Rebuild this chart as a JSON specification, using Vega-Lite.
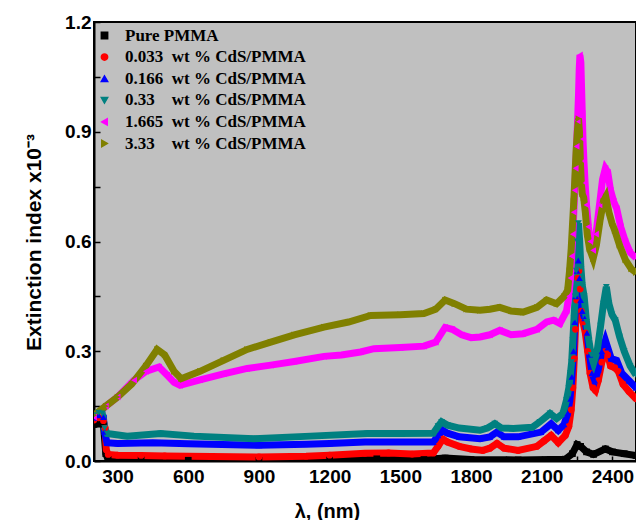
{
  "$schema": "https://vega.github.io/schema/vega-lite/v6.json",
  "width": 542,
  "height": 439,
  "autosize": {"type": "none"},
  "padding": {"left": 94, "top": 22, "right": 0, "bottom": 59},
  "background": "white",
  "config": {
    "view": {"fill": "#c0c0c0", "stroke": "black", "strokeWidth": 2},
    "axis": {"grid": false, "domainColor": "black", "domainWidth": 2, "tickColor": "black", "tickWidth": 1.5, "labelFont": "Liberation Sans", "labelFontWeight": "bold", "labelFontSize": 19, "labelColor": "black", "titleFont": "Liberation Sans", "titleFontWeight": "bold", "titleColor": "black"}
  },
  "data": {"values": [
    {"s":"Pure PMMA","x":200,"y":0.1},{"s":"Pure PMMA","x":220,"y":0.102},{"s":"Pure PMMA","x":240,"y":0.1},{"s":"Pure PMMA","x":250,"y":0.02},{"s":"Pure PMMA","x":260,"y":0.004},{"s":"Pure PMMA","x":400,"y":0.003},{"s":"Pure PMMA","x":600,"y":0.002},{"s":"Pure PMMA","x":900,"y":0.002},{"s":"Pure PMMA","x":1200,"y":0.003},{"s":"Pure PMMA","x":1400,"y":0.006},{"s":"Pure PMMA","x":1600,"y":0.004},{"s":"Pure PMMA","x":1690,"y":0.008},{"s":"Pure PMMA","x":1800,"y":0.004},{"s":"Pure PMMA","x":2000,"y":0.003},{"s":"Pure PMMA","x":2200,"y":0.005},{"s":"Pure PMMA","x":2230,"y":0.02},{"s":"Pure PMMA","x":2250,"y":0.045},{"s":"Pure PMMA","x":2265,"y":0.04},{"s":"Pure PMMA","x":2290,"y":0.025},{"s":"Pure PMMA","x":2320,"y":0.018},{"s":"Pure PMMA","x":2370,"y":0.033},{"s":"Pure PMMA","x":2400,"y":0.025},{"s":"Pure PMMA","x":2450,"y":0.02},{"s":"Pure PMMA","x":2500,"y":0.015},

    {"s":"0.033\u00a0\u00a0wt % CdS/PMMA","x":200,"y":0.112},{"s":"0.033\u00a0\u00a0wt % CdS/PMMA","x":220,"y":0.118},{"s":"0.033\u00a0\u00a0wt % CdS/PMMA","x":240,"y":0.11},{"s":"0.033\u00a0\u00a0wt % CdS/PMMA","x":247,"y":0.09},{"s":"0.033\u00a0\u00a0wt % CdS/PMMA","x":252,"y":0.03},{"s":"0.033\u00a0\u00a0wt % CdS/PMMA","x":260,"y":0.018},{"s":"0.033\u00a0\u00a0wt % CdS/PMMA","x":300,"y":0.016},{"s":"0.033\u00a0\u00a0wt % CdS/PMMA","x":400,"y":0.015},{"s":"0.033\u00a0\u00a0wt % CdS/PMMA","x":500,"y":0.014},{"s":"0.033\u00a0\u00a0wt % CdS/PMMA","x":700,"y":0.012},{"s":"0.033\u00a0\u00a0wt % CdS/PMMA","x":900,"y":0.011},{"s":"0.033\u00a0\u00a0wt % CdS/PMMA","x":1100,"y":0.013},{"s":"0.033\u00a0\u00a0wt % CdS/PMMA","x":1200,"y":0.016},{"s":"0.033\u00a0\u00a0wt % CdS/PMMA","x":1350,"y":0.021},{"s":"0.033\u00a0\u00a0wt % CdS/PMMA","x":1450,"y":0.022},{"s":"0.033\u00a0\u00a0wt % CdS/PMMA","x":1550,"y":0.019},{"s":"0.033\u00a0\u00a0wt % CdS/PMMA","x":1640,"y":0.022},{"s":"0.033\u00a0\u00a0wt % CdS/PMMA","x":1660,"y":0.04},{"s":"0.033\u00a0\u00a0wt % CdS/PMMA","x":1680,"y":0.06},{"s":"0.033\u00a0\u00a0wt % CdS/PMMA","x":1700,"y":0.052},{"s":"0.033\u00a0\u00a0wt % CdS/PMMA","x":1750,"y":0.04},{"s":"0.033\u00a0\u00a0wt % CdS/PMMA","x":1800,"y":0.033},{"s":"0.033\u00a0\u00a0wt % CdS/PMMA","x":1850,"y":0.029},{"s":"0.033\u00a0\u00a0wt % CdS/PMMA","x":1880,"y":0.035},{"s":"0.033\u00a0\u00a0wt % CdS/PMMA","x":1910,"y":0.048},{"s":"0.033\u00a0\u00a0wt % CdS/PMMA","x":1940,"y":0.035},{"s":"0.033\u00a0\u00a0wt % CdS/PMMA","x":2000,"y":0.029},{"s":"0.033\u00a0\u00a0wt % CdS/PMMA","x":2080,"y":0.04},{"s":"0.033\u00a0\u00a0wt % CdS/PMMA","x":2110,"y":0.055},{"s":"0.033\u00a0\u00a0wt % CdS/PMMA","x":2140,"y":0.07},{"s":"0.033\u00a0\u00a0wt % CdS/PMMA","x":2170,"y":0.05},{"s":"0.033\u00a0\u00a0wt % CdS/PMMA","x":2200,"y":0.07},{"s":"0.033\u00a0\u00a0wt % CdS/PMMA","x":2215,"y":0.095},{"s":"0.033\u00a0\u00a0wt % CdS/PMMA","x":2225,"y":0.14},{"s":"0.033\u00a0\u00a0wt % CdS/PMMA","x":2232,"y":0.2},{"s":"0.033\u00a0\u00a0wt % CdS/PMMA","x":2238,"y":0.28},{"s":"0.033\u00a0\u00a0wt % CdS/PMMA","x":2243,"y":0.36},{"s":"0.033\u00a0\u00a0wt % CdS/PMMA","x":2248,"y":0.44},{"s":"0.033\u00a0\u00a0wt % CdS/PMMA","x":2253,"y":0.5},{"s":"0.033\u00a0\u00a0wt % CdS/PMMA","x":2258,"y":0.52},{"s":"0.033\u00a0\u00a0wt % CdS/PMMA","x":2263,"y":0.47},{"s":"0.033\u00a0\u00a0wt % CdS/PMMA","x":2268,"y":0.41},{"s":"0.033\u00a0\u00a0wt % CdS/PMMA","x":2275,"y":0.38},{"s":"0.033\u00a0\u00a0wt % CdS/PMMA","x":2285,"y":0.35},{"s":"0.033\u00a0\u00a0wt % CdS/PMMA","x":2295,"y":0.3},{"s":"0.033\u00a0\u00a0wt % CdS/PMMA","x":2305,"y":0.24},{"s":"0.033\u00a0\u00a0wt % CdS/PMMA","x":2318,"y":0.2},{"s":"0.033\u00a0\u00a0wt % CdS/PMMA","x":2328,"y":0.193},{"s":"0.033\u00a0\u00a0wt % CdS/PMMA","x":2340,"y":0.22},{"s":"0.033\u00a0\u00a0wt % CdS/PMMA","x":2355,"y":0.27},{"s":"0.033\u00a0\u00a0wt % CdS/PMMA","x":2370,"y":0.3},{"s":"0.033\u00a0\u00a0wt % CdS/PMMA","x":2380,"y":0.29},{"s":"0.033\u00a0\u00a0wt % CdS/PMMA","x":2392,"y":0.26},{"s":"0.033\u00a0\u00a0wt % CdS/PMMA","x":2410,"y":0.255},{"s":"0.033\u00a0\u00a0wt % CdS/PMMA","x":2425,"y":0.245},{"s":"0.033\u00a0\u00a0wt % CdS/PMMA","x":2445,"y":0.21},{"s":"0.033\u00a0\u00a0wt % CdS/PMMA","x":2470,"y":0.19},{"s":"0.033\u00a0\u00a0wt % CdS/PMMA","x":2500,"y":0.17},

    {"s":"0.166\u00a0\u00a0wt % CdS/PMMA","x":200,"y":0.118},{"s":"0.166\u00a0\u00a0wt % CdS/PMMA","x":220,"y":0.125},{"s":"0.166\u00a0\u00a0wt % CdS/PMMA","x":240,"y":0.12},{"s":"0.166\u00a0\u00a0wt % CdS/PMMA","x":245,"y":0.08},{"s":"0.166\u00a0\u00a0wt % CdS/PMMA","x":255,"y":0.05},{"s":"0.166\u00a0\u00a0wt % CdS/PMMA","x":300,"y":0.048},{"s":"0.166\u00a0\u00a0wt % CdS/PMMA","x":450,"y":0.05},{"s":"0.166\u00a0\u00a0wt % CdS/PMMA","x":600,"y":0.047},{"s":"0.166\u00a0\u00a0wt % CdS/PMMA","x":900,"y":0.043},{"s":"0.166\u00a0\u00a0wt % CdS/PMMA","x":1100,"y":0.046},{"s":"0.166\u00a0\u00a0wt % CdS/PMMA","x":1200,"y":0.048},{"s":"0.166\u00a0\u00a0wt % CdS/PMMA","x":1350,"y":0.052},{"s":"0.166\u00a0\u00a0wt % CdS/PMMA","x":1500,"y":0.052},{"s":"0.166\u00a0\u00a0wt % CdS/PMMA","x":1640,"y":0.052},{"s":"0.166\u00a0\u00a0wt % CdS/PMMA","x":1660,"y":0.07},{"s":"0.166\u00a0\u00a0wt % CdS/PMMA","x":1680,"y":0.084},{"s":"0.166\u00a0\u00a0wt % CdS/PMMA","x":1700,"y":0.076},{"s":"0.166\u00a0\u00a0wt % CdS/PMMA","x":1750,"y":0.066},{"s":"0.166\u00a0\u00a0wt % CdS/PMMA","x":1838,"y":0.061},{"s":"0.166\u00a0\u00a0wt % CdS/PMMA","x":1880,"y":0.066},{"s":"0.166\u00a0\u00a0wt % CdS/PMMA","x":1909,"y":0.079},{"s":"0.166\u00a0\u00a0wt % CdS/PMMA","x":1940,"y":0.066},{"s":"0.166\u00a0\u00a0wt % CdS/PMMA","x":2000,"y":0.066},{"s":"0.166\u00a0\u00a0wt % CdS/PMMA","x":2097,"y":0.079},{"s":"0.166\u00a0\u00a0wt % CdS/PMMA","x":2140,"y":0.102},{"s":"0.166\u00a0\u00a0wt % CdS/PMMA","x":2170,"y":0.084},{"s":"0.166\u00a0\u00a0wt % CdS/PMMA","x":2195,"y":0.1},{"s":"0.166\u00a0\u00a0wt % CdS/PMMA","x":2210,"y":0.13},{"s":"0.166\u00a0\u00a0wt % CdS/PMMA","x":2220,"y":0.17},{"s":"0.166\u00a0\u00a0wt % CdS/PMMA","x":2228,"y":0.23},{"s":"0.166\u00a0\u00a0wt % CdS/PMMA","x":2235,"y":0.3},{"s":"0.166\u00a0\u00a0wt % CdS/PMMA","x":2240,"y":0.38},{"s":"0.166\u00a0\u00a0wt % CdS/PMMA","x":2245,"y":0.45},{"s":"0.166\u00a0\u00a0wt % CdS/PMMA","x":2250,"y":0.52},{"s":"0.166\u00a0\u00a0wt % CdS/PMMA","x":2255,"y":0.548},{"s":"0.166\u00a0\u00a0wt % CdS/PMMA","x":2260,"y":0.5},{"s":"0.166\u00a0\u00a0wt % CdS/PMMA","x":2265,"y":0.44},{"s":"0.166\u00a0\u00a0wt % CdS/PMMA","x":2272,"y":0.41},{"s":"0.166\u00a0\u00a0wt % CdS/PMMA","x":2282,"y":0.39},{"s":"0.166\u00a0\u00a0wt % CdS/PMMA","x":2292,"y":0.35},{"s":"0.166\u00a0\u00a0wt % CdS/PMMA","x":2303,"y":0.29},{"s":"0.166\u00a0\u00a0wt % CdS/PMMA","x":2313,"y":0.24},{"s":"0.166\u00a0\u00a0wt % CdS/PMMA","x":2325,"y":0.22},{"s":"0.166\u00a0\u00a0wt % CdS/PMMA","x":2340,"y":0.25},{"s":"0.166\u00a0\u00a0wt % CdS/PMMA","x":2355,"y":0.3},{"s":"0.166\u00a0\u00a0wt % CdS/PMMA","x":2370,"y":0.33},{"s":"0.166\u00a0\u00a0wt % CdS/PMMA","x":2380,"y":0.31},{"s":"0.166\u00a0\u00a0wt % CdS/PMMA","x":2395,"y":0.28},{"s":"0.166\u00a0\u00a0wt % CdS/PMMA","x":2418,"y":0.275},{"s":"0.166\u00a0\u00a0wt % CdS/PMMA","x":2440,"y":0.24},{"s":"0.166\u00a0\u00a0wt % CdS/PMMA","x":2470,"y":0.22},{"s":"0.166\u00a0\u00a0wt % CdS/PMMA","x":2500,"y":0.2},

    {"s":"0.33\u00a0\u00a0\u00a0\u00a0wt % CdS/PMMA","x":200,"y":0.125},{"s":"0.33\u00a0\u00a0\u00a0\u00a0wt % CdS/PMMA","x":220,"y":0.132},{"s":"0.33\u00a0\u00a0\u00a0\u00a0wt % CdS/PMMA","x":235,"y":0.13},{"s":"0.33\u00a0\u00a0\u00a0\u00a0wt % CdS/PMMA","x":245,"y":0.09},{"s":"0.33\u00a0\u00a0\u00a0\u00a0wt % CdS/PMMA","x":256,"y":0.075},{"s":"0.33\u00a0\u00a0\u00a0\u00a0wt % CdS/PMMA","x":341,"y":0.068},{"s":"0.33\u00a0\u00a0\u00a0\u00a0wt % CdS/PMMA","x":483,"y":0.075},{"s":"0.33\u00a0\u00a0\u00a0\u00a0wt % CdS/PMMA","x":624,"y":0.068},{"s":"0.33\u00a0\u00a0\u00a0\u00a0wt % CdS/PMMA","x":879,"y":0.061},{"s":"0.33\u00a0\u00a0\u00a0\u00a0wt % CdS/PMMA","x":1119,"y":0.068},{"s":"0.33\u00a0\u00a0\u00a0\u00a0wt % CdS/PMMA","x":1360,"y":0.075},{"s":"0.33\u00a0\u00a0\u00a0\u00a0wt % CdS/PMMA","x":1500,"y":0.075},{"s":"0.33\u00a0\u00a0\u00a0\u00a0wt % CdS/PMMA","x":1640,"y":0.076},{"s":"0.33\u00a0\u00a0\u00a0\u00a0wt % CdS/PMMA","x":1660,"y":0.095},{"s":"0.33\u00a0\u00a0\u00a0\u00a0wt % CdS/PMMA","x":1675,"y":0.107},{"s":"0.33\u00a0\u00a0\u00a0\u00a0wt % CdS/PMMA","x":1700,"y":0.098},{"s":"0.33\u00a0\u00a0\u00a0\u00a0wt % CdS/PMMA","x":1750,"y":0.09},{"s":"0.33\u00a0\u00a0\u00a0\u00a0wt % CdS/PMMA","x":1838,"y":0.084},{"s":"0.33\u00a0\u00a0\u00a0\u00a0wt % CdS/PMMA","x":1870,"y":0.09},{"s":"0.33\u00a0\u00a0\u00a0\u00a0wt % CdS/PMMA","x":1901,"y":0.102},{"s":"0.33\u00a0\u00a0\u00a0\u00a0wt % CdS/PMMA","x":1930,"y":0.09},{"s":"0.33\u00a0\u00a0\u00a0\u00a0wt % CdS/PMMA","x":1979,"y":0.089},{"s":"0.33\u00a0\u00a0\u00a0\u00a0wt % CdS/PMMA","x":2060,"y":0.092},{"s":"0.33\u00a0\u00a0\u00a0\u00a0wt % CdS/PMMA","x":2092,"y":0.107},{"s":"0.33\u00a0\u00a0\u00a0\u00a0wt % CdS/PMMA","x":2135,"y":0.13},{"s":"0.33\u00a0\u00a0\u00a0\u00a0wt % CdS/PMMA","x":2163,"y":0.116},{"s":"0.33\u00a0\u00a0\u00a0\u00a0wt % CdS/PMMA","x":2190,"y":0.13},{"s":"0.33\u00a0\u00a0\u00a0\u00a0wt % CdS/PMMA","x":2205,"y":0.166},{"s":"0.33\u00a0\u00a0\u00a0\u00a0wt % CdS/PMMA","x":2215,"y":0.2},{"s":"0.33\u00a0\u00a0\u00a0\u00a0wt % CdS/PMMA","x":2222,"y":0.24},{"s":"0.33\u00a0\u00a0\u00a0\u00a0wt % CdS/PMMA","x":2227,"y":0.27},{"s":"0.33\u00a0\u00a0\u00a0\u00a0wt % CdS/PMMA","x":2232,"y":0.33},{"s":"0.33\u00a0\u00a0\u00a0\u00a0wt % CdS/PMMA","x":2237,"y":0.39},{"s":"0.33\u00a0\u00a0\u00a0\u00a0wt % CdS/PMMA","x":2242,"y":0.45},{"s":"0.33\u00a0\u00a0\u00a0\u00a0wt % CdS/PMMA","x":2247,"y":0.52},{"s":"0.33\u00a0\u00a0\u00a0\u00a0wt % CdS/PMMA","x":2251,"y":0.6},{"s":"0.33\u00a0\u00a0\u00a0\u00a0wt % CdS/PMMA","x":2256,"y":0.65},{"s":"0.33\u00a0\u00a0\u00a0\u00a0wt % CdS/PMMA","x":2261,"y":0.6},{"s":"0.33\u00a0\u00a0\u00a0\u00a0wt % CdS/PMMA","x":2266,"y":0.53},{"s":"0.33\u00a0\u00a0\u00a0\u00a0wt % CdS/PMMA","x":2272,"y":0.48},{"s":"0.33\u00a0\u00a0\u00a0\u00a0wt % CdS/PMMA","x":2280,"y":0.45},{"s":"0.33\u00a0\u00a0\u00a0\u00a0wt % CdS/PMMA","x":2290,"y":0.38},{"s":"0.33\u00a0\u00a0\u00a0\u00a0wt % CdS/PMMA","x":2300,"y":0.33},{"s":"0.33\u00a0\u00a0\u00a0\u00a0wt % CdS/PMMA","x":2310,"y":0.29},{"s":"0.33\u00a0\u00a0\u00a0\u00a0wt % CdS/PMMA","x":2320,"y":0.268},{"s":"0.33\u00a0\u00a0\u00a0\u00a0wt % CdS/PMMA","x":2335,"y":0.3},{"s":"0.33\u00a0\u00a0\u00a0\u00a0wt % CdS/PMMA","x":2350,"y":0.37},{"s":"0.33\u00a0\u00a0\u00a0\u00a0wt % CdS/PMMA","x":2362,"y":0.43},{"s":"0.33\u00a0\u00a0\u00a0\u00a0wt % CdS/PMMA","x":2374,"y":0.476},{"s":"0.33\u00a0\u00a0\u00a0\u00a0wt % CdS/PMMA","x":2385,"y":0.43},{"s":"0.33\u00a0\u00a0\u00a0\u00a0wt % CdS/PMMA","x":2398,"y":0.4},{"s":"0.33\u00a0\u00a0\u00a0\u00a0wt % CdS/PMMA","x":2412,"y":0.385},{"s":"0.33\u00a0\u00a0\u00a0\u00a0wt % CdS/PMMA","x":2430,"y":0.34},{"s":"0.33\u00a0\u00a0\u00a0\u00a0wt % CdS/PMMA","x":2450,"y":0.3},{"s":"0.33\u00a0\u00a0\u00a0\u00a0wt % CdS/PMMA","x":2475,"y":0.26},{"s":"0.33\u00a0\u00a0\u00a0\u00a0wt % CdS/PMMA","x":2500,"y":0.235},

    {"s":"1.665\u00a0\u00a0wt % CdS/PMMA","x":200,"y":0.12},{"s":"1.665\u00a0\u00a0wt % CdS/PMMA","x":250,"y":0.15},{"s":"1.665\u00a0\u00a0wt % CdS/PMMA","x":300,"y":0.175},{"s":"1.665\u00a0\u00a0wt % CdS/PMMA","x":370,"y":0.221},{"s":"1.665\u00a0\u00a0wt % CdS/PMMA","x":420,"y":0.245},{"s":"1.665\u00a0\u00a0wt % CdS/PMMA","x":476,"y":0.257},{"s":"1.665\u00a0\u00a0wt % CdS/PMMA","x":510,"y":0.235},{"s":"1.665\u00a0\u00a0wt % CdS/PMMA","x":540,"y":0.215},{"s":"1.665\u00a0\u00a0wt % CdS/PMMA","x":565,"y":0.207},{"s":"1.665\u00a0\u00a0wt % CdS/PMMA","x":650,"y":0.222},{"s":"1.665\u00a0\u00a0wt % CdS/PMMA","x":750,"y":0.238},{"s":"1.665\u00a0\u00a0wt % CdS/PMMA","x":850,"y":0.253},{"s":"1.665\u00a0\u00a0wt % CdS/PMMA","x":950,"y":0.262},{"s":"1.665\u00a0\u00a0wt % CdS/PMMA","x":1050,"y":0.272},{"s":"1.665\u00a0\u00a0wt % CdS/PMMA","x":1176,"y":0.286},{"s":"1.665\u00a0\u00a0wt % CdS/PMMA","x":1250,"y":0.29},{"s":"1.665\u00a0\u00a0wt % CdS/PMMA","x":1331,"y":0.298},{"s":"1.665\u00a0\u00a0wt % CdS/PMMA","x":1388,"y":0.307},{"s":"1.665\u00a0\u00a0wt % CdS/PMMA","x":1500,"y":0.31},{"s":"1.665\u00a0\u00a0wt % CdS/PMMA","x":1600,"y":0.314},{"s":"1.665\u00a0\u00a0wt % CdS/PMMA","x":1650,"y":0.325},{"s":"1.665\u00a0\u00a0wt % CdS/PMMA","x":1690,"y":0.365},{"s":"1.665\u00a0\u00a0wt % CdS/PMMA","x":1720,"y":0.36},{"s":"1.665\u00a0\u00a0wt % CdS/PMMA","x":1760,"y":0.345},{"s":"1.665\u00a0\u00a0wt % CdS/PMMA","x":1800,"y":0.337},{"s":"1.665\u00a0\u00a0wt % CdS/PMMA","x":1838,"y":0.339},{"s":"1.665\u00a0\u00a0wt % CdS/PMMA","x":1880,"y":0.345},{"s":"1.665\u00a0\u00a0wt % CdS/PMMA","x":1922,"y":0.357},{"s":"1.665\u00a0\u00a0wt % CdS/PMMA","x":1970,"y":0.345},{"s":"1.665\u00a0\u00a0wt % CdS/PMMA","x":2021,"y":0.348},{"s":"1.665\u00a0\u00a0wt % CdS/PMMA","x":2080,"y":0.36},{"s":"1.665\u00a0\u00a0wt % CdS/PMMA","x":2121,"y":0.38},{"s":"1.665\u00a0\u00a0wt % CdS/PMMA","x":2150,"y":0.385},{"s":"1.665\u00a0\u00a0wt % CdS/PMMA","x":2177,"y":0.376},{"s":"1.665\u00a0\u00a0wt % CdS/PMMA","x":2205,"y":0.41},{"s":"1.665\u00a0\u00a0wt % CdS/PMMA","x":2215,"y":0.45},{"s":"1.665\u00a0\u00a0wt % CdS/PMMA","x":2222,"y":0.5},{"s":"1.665\u00a0\u00a0wt % CdS/PMMA","x":2227,"y":0.56},{"s":"1.665\u00a0\u00a0wt % CdS/PMMA","x":2232,"y":0.62},{"s":"1.665\u00a0\u00a0wt % CdS/PMMA","x":2236,"y":0.68},{"s":"1.665\u00a0\u00a0wt % CdS/PMMA","x":2240,"y":0.74},{"s":"1.665\u00a0\u00a0wt % CdS/PMMA","x":2244,"y":0.8},{"s":"1.665\u00a0\u00a0wt % CdS/PMMA","x":2248,"y":0.86},{"s":"1.665\u00a0\u00a0wt % CdS/PMMA","x":2252,"y":0.93},{"s":"1.665\u00a0\u00a0wt % CdS/PMMA","x":2256,"y":1.0},{"s":"1.665\u00a0\u00a0wt % CdS/PMMA","x":2259,"y":1.07},{"s":"1.665\u00a0\u00a0wt % CdS/PMMA","x":2262,"y":1.11},{"s":"1.665\u00a0\u00a0wt % CdS/PMMA","x":2266,"y":1.09},{"s":"1.665\u00a0\u00a0wt % CdS/PMMA","x":2269,"y":1.02},{"s":"1.665\u00a0\u00a0wt % CdS/PMMA","x":2272,"y":0.95},{"s":"1.665\u00a0\u00a0wt % CdS/PMMA","x":2275,"y":0.88},{"s":"1.665\u00a0\u00a0wt % CdS/PMMA","x":2279,"y":0.82},{"s":"1.665\u00a0\u00a0wt % CdS/PMMA","x":2284,"y":0.76},{"s":"1.665\u00a0\u00a0wt % CdS/PMMA","x":2290,"y":0.7},{"s":"1.665\u00a0\u00a0wt % CdS/PMMA","x":2298,"y":0.64},{"s":"1.665\u00a0\u00a0wt % CdS/PMMA","x":2306,"y":0.6},{"s":"1.665\u00a0\u00a0wt % CdS/PMMA","x":2318,"y":0.576},{"s":"1.665\u00a0\u00a0wt % CdS/PMMA","x":2330,"y":0.62},{"s":"1.665\u00a0\u00a0wt % CdS/PMMA","x":2345,"y":0.7},{"s":"1.665\u00a0\u00a0wt % CdS/PMMA","x":2358,"y":0.77},{"s":"1.665\u00a0\u00a0wt % CdS/PMMA","x":2370,"y":0.8},{"s":"1.665\u00a0\u00a0wt % CdS/PMMA","x":2380,"y":0.79},{"s":"1.665\u00a0\u00a0wt % CdS/PMMA","x":2392,"y":0.74},{"s":"1.665\u00a0\u00a0wt % CdS/PMMA","x":2405,"y":0.71},{"s":"1.665\u00a0\u00a0wt % CdS/PMMA","x":2418,"y":0.69},{"s":"1.665\u00a0\u00a0wt % CdS/PMMA","x":2435,"y":0.64},{"s":"1.665\u00a0\u00a0wt % CdS/PMMA","x":2455,"y":0.6},{"s":"1.665\u00a0\u00a0wt % CdS/PMMA","x":2475,"y":0.57},{"s":"1.665\u00a0\u00a0wt % CdS/PMMA","x":2500,"y":0.555},

    {"s":"3.33\u00a0\u00a0\u00a0\u00a0wt % CdS/PMMA","x":200,"y":0.125},{"s":"3.33\u00a0\u00a0\u00a0\u00a0wt % CdS/PMMA","x":250,"y":0.15},{"s":"3.33\u00a0\u00a0\u00a0\u00a0wt % CdS/PMMA","x":300,"y":0.175},{"s":"3.33\u00a0\u00a0\u00a0\u00a0wt % CdS/PMMA","x":360,"y":0.21},{"s":"3.33\u00a0\u00a0\u00a0\u00a0wt % CdS/PMMA","x":420,"y":0.26},{"s":"3.33\u00a0\u00a0\u00a0\u00a0wt % CdS/PMMA","x":468,"y":0.305},{"s":"3.33\u00a0\u00a0\u00a0\u00a0wt % CdS/PMMA","x":500,"y":0.29},{"s":"3.33\u00a0\u00a0\u00a0\u00a0wt % CdS/PMMA","x":540,"y":0.245},{"s":"3.33\u00a0\u00a0\u00a0\u00a0wt % CdS/PMMA","x":570,"y":0.225},{"s":"3.33\u00a0\u00a0\u00a0\u00a0wt % CdS/PMMA","x":650,"y":0.245},{"s":"3.33\u00a0\u00a0\u00a0\u00a0wt % CdS/PMMA","x":750,"y":0.275},{"s":"3.33\u00a0\u00a0\u00a0\u00a0wt % CdS/PMMA","x":850,"y":0.305},{"s":"3.33\u00a0\u00a0\u00a0\u00a0wt % CdS/PMMA","x":950,"y":0.325},{"s":"3.33\u00a0\u00a0\u00a0\u00a0wt % CdS/PMMA","x":1050,"y":0.345},{"s":"3.33\u00a0\u00a0\u00a0\u00a0wt % CdS/PMMA","x":1176,"y":0.366},{"s":"3.33\u00a0\u00a0\u00a0\u00a0wt % CdS/PMMA","x":1280,"y":0.38},{"s":"3.33\u00a0\u00a0\u00a0\u00a0wt % CdS/PMMA","x":1374,"y":0.398},{"s":"3.33\u00a0\u00a0\u00a0\u00a0wt % CdS/PMMA","x":1500,"y":0.4},{"s":"3.33\u00a0\u00a0\u00a0\u00a0wt % CdS/PMMA","x":1600,"y":0.403},{"s":"3.33\u00a0\u00a0\u00a0\u00a0wt % CdS/PMMA","x":1650,"y":0.415},{"s":"3.33\u00a0\u00a0\u00a0\u00a0wt % CdS/PMMA","x":1690,"y":0.44},{"s":"3.33\u00a0\u00a0\u00a0\u00a0wt % CdS/PMMA","x":1730,"y":0.43},{"s":"3.33\u00a0\u00a0\u00a0\u00a0wt % CdS/PMMA","x":1780,"y":0.415},{"s":"3.33\u00a0\u00a0\u00a0\u00a0wt % CdS/PMMA","x":1838,"y":0.412},{"s":"3.33\u00a0\u00a0\u00a0\u00a0wt % CdS/PMMA","x":1880,"y":0.415},{"s":"3.33\u00a0\u00a0\u00a0\u00a0wt % CdS/PMMA","x":1922,"y":0.42},{"s":"3.33\u00a0\u00a0\u00a0\u00a0wt % CdS/PMMA","x":1970,"y":0.41},{"s":"3.33\u00a0\u00a0\u00a0\u00a0wt % CdS/PMMA","x":2021,"y":0.407},{"s":"3.33\u00a0\u00a0\u00a0\u00a0wt % CdS/PMMA","x":2080,"y":0.42},{"s":"3.33\u00a0\u00a0\u00a0\u00a0wt % CdS/PMMA","x":2121,"y":0.44},{"s":"3.33\u00a0\u00a0\u00a0\u00a0wt % CdS/PMMA","x":2163,"y":0.43},{"s":"3.33\u00a0\u00a0\u00a0\u00a0wt % CdS/PMMA","x":2195,"y":0.45},{"s":"3.33\u00a0\u00a0\u00a0\u00a0wt % CdS/PMMA","x":2210,"y":0.467},{"s":"3.33\u00a0\u00a0\u00a0\u00a0wt % CdS/PMMA","x":2218,"y":0.52},{"s":"3.33\u00a0\u00a0\u00a0\u00a0wt % CdS/PMMA","x":2225,"y":0.58},{"s":"3.33\u00a0\u00a0\u00a0\u00a0wt % CdS/PMMA","x":2230,"y":0.64},{"s":"3.33\u00a0\u00a0\u00a0\u00a0wt % CdS/PMMA","x":2236,"y":0.71},{"s":"3.33\u00a0\u00a0\u00a0\u00a0wt % CdS/PMMA","x":2241,"y":0.78},{"s":"3.33\u00a0\u00a0\u00a0\u00a0wt % CdS/PMMA","x":2246,"y":0.85},{"s":"3.33\u00a0\u00a0\u00a0\u00a0wt % CdS/PMMA","x":2251,"y":0.9},{"s":"3.33\u00a0\u00a0\u00a0\u00a0wt % CdS/PMMA","x":2256,"y":0.936},{"s":"3.33\u00a0\u00a0\u00a0\u00a0wt % CdS/PMMA","x":2260,"y":0.9},{"s":"3.33\u00a0\u00a0\u00a0\u00a0wt % CdS/PMMA","x":2264,"y":0.82},{"s":"3.33\u00a0\u00a0\u00a0\u00a0wt % CdS/PMMA","x":2268,"y":0.76},{"s":"3.33\u00a0\u00a0\u00a0\u00a0wt % CdS/PMMA","x":2272,"y":0.73},{"s":"3.33\u00a0\u00a0\u00a0\u00a0wt % CdS/PMMA","x":2278,"y":0.72},{"s":"3.33\u00a0\u00a0\u00a0\u00a0wt % CdS/PMMA","x":2285,"y":0.68},{"s":"3.33\u00a0\u00a0\u00a0\u00a0wt % CdS/PMMA","x":2293,"y":0.62},{"s":"3.33\u00a0\u00a0\u00a0\u00a0wt % CdS/PMMA","x":2303,"y":0.58},{"s":"3.33\u00a0\u00a0\u00a0\u00a0wt % CdS/PMMA","x":2318,"y":0.553},{"s":"3.33\u00a0\u00a0\u00a0\u00a0wt % CdS/PMMA","x":2332,"y":0.59},{"s":"3.33\u00a0\u00a0\u00a0\u00a0wt % CdS/PMMA","x":2348,"y":0.66},{"s":"3.33\u00a0\u00a0\u00a0\u00a0wt % CdS/PMMA","x":2362,"y":0.71},{"s":"3.33\u00a0\u00a0\u00a0\u00a0wt % CdS/PMMA","x":2372,"y":0.722},{"s":"3.33\u00a0\u00a0\u00a0\u00a0wt % CdS/PMMA","x":2385,"y":0.68},{"s":"3.33\u00a0\u00a0\u00a0\u00a0wt % CdS/PMMA","x":2398,"y":0.65},{"s":"3.33\u00a0\u00a0\u00a0\u00a0wt % CdS/PMMA","x":2410,"y":0.63},{"s":"3.33\u00a0\u00a0\u00a0\u00a0wt % CdS/PMMA","x":2430,"y":0.59},{"s":"3.33\u00a0\u00a0\u00a0\u00a0wt % CdS/PMMA","x":2455,"y":0.55},{"s":"3.33\u00a0\u00a0\u00a0\u00a0wt % CdS/PMMA","x":2480,"y":0.525},{"s":"3.33\u00a0\u00a0\u00a0\u00a0wt % CdS/PMMA","x":2500,"y":0.515}
  ]},
  "encoding": {
    "x": {"field": "x", "type": "quantitative",
      "scale": {"domain": [200, 2500], "nice": false, "zero": false},
      "axis": {"values": [300,450,600,750,900,1050,1200,1350,1500,1650,1800,1950,2100,2250,2400], "format": "d",
        "labelExpr": "datum.value % 300 == 0 ? datum.label : ''", "tickSize": -5, "labelPadding": 11,
        "title": "λ, (nm)", "titleFontSize": 20, "titleX": 233, "titleY": 56, "titleBaseline": "alphabetic"}},
    "y": {"field": "y", "type": "quantitative",
      "scale": {"domain": [0, 1.2], "nice": false},
      "axis": {"values": [0,0.15,0.3,0.45,0.6,0.75,0.9,1.05,1.2], "format": ".1f",
        "labelExpr": "indexof(['0.0','0.3','0.6','0.9','1.2'], datum.label) >= 0 ? datum.label : ''", "tickSize": -6, "labelPadding": 9,
        "title": "Extinction index x10⁻³", "titleFontSize": 21, "titleX": -54, "titleY": 220, "titleAngle": -90, "titleAlign": "center", "titleBaseline": "alphabetic"}},
    "color": {"field": "s", "type": "nominal",
      "scale": {"domain": ["Pure PMMA", "0.033\u00a0\u00a0wt % CdS/PMMA", "0.166\u00a0\u00a0wt % CdS/PMMA", "0.33\u00a0\u00a0\u00a0\u00a0wt % CdS/PMMA", "1.665\u00a0\u00a0wt % CdS/PMMA", "3.33\u00a0\u00a0\u00a0\u00a0wt % CdS/PMMA"],
        "range": ["#000000", "#ff0000", "#0000ff", "#008080", "#ff00ff", "#808000"]},
      "legend": {"orient": "none", "legendX": 2, "legendY": 5, "title": null, "labelFont": "Liberation Serif", "labelFontWeight": "bold", "labelFontSize": 17, "labelColor": "black", "labelLimit": 400, "symbolSize": 40, "labelOffset": 12, "rowPadding": 3.6, "padding": 0}}
  },
  "layer": [
    {"mark": {"type": "line", "strokeWidth": 7, "clip": true}},
    {"mark": {"type": "point", "filled": true, "size": 45, "opacity": 1, "clip": true},
      "encoding": {"shape": {"field": "s", "type": "nominal",
        "scale": {"domain": ["Pure PMMA", "0.033\u00a0\u00a0wt % CdS/PMMA", "0.166\u00a0\u00a0wt % CdS/PMMA", "0.33\u00a0\u00a0\u00a0\u00a0wt % CdS/PMMA", "1.665\u00a0\u00a0wt % CdS/PMMA", "3.33\u00a0\u00a0\u00a0\u00a0wt % CdS/PMMA"],
          "range": ["square", "circle", "triangle-up", "triangle-down", "triangle-left", "triangle-right"]},
        "legend": {"orient": "none", "legendX": 2, "legendY": 5, "title": null, "labelFont": "Liberation Serif", "labelFontWeight": "bold", "labelFontSize": 17, "labelColor": "black", "labelLimit": 400, "symbolSize": 40, "labelOffset": 12, "rowPadding": 3.6, "padding": 0}}}}
  ]
}
